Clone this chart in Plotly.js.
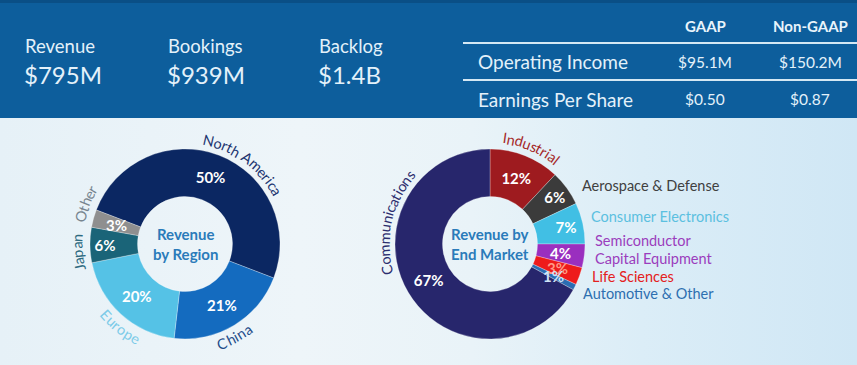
<!DOCTYPE html>
<html>
<head>
<meta charset="utf-8">
<script src="https://cdn.plot.ly/plotly-3.0.1.min.js"></script>
<style>
  html, body { margin:0; padding:0; }
  body { width:857px; height:365px; overflow:hidden;
    background: linear-gradient(to right, #e6f1f7 0%, #eef5f9 35%, #e9f3f8 55%, #dbedf7 75%, #d0e7f5 100%); }
  #chart { width:857px; height:365px; }
</style>
</head>
<body>
<div id="chart"></div>
<script>
// ---------- data ----------
const kpiNames = ['Revenue', 'Bookings', 'Backlog'];
const kpiValues = ['$795M', '$939M', '$1.4B'];
const tableCols = ['GAAP', 'Non-GAAP'];
const tableRows = ['Operating Income', 'Earnings Per Share'];
const gaapValues = ['$95.1M', '$0.50'];
const nonGaapValues = ['$150.2M', '$0.87'];

const regionLabels = ['North America', 'China', 'Europe', 'Japan', 'Other'];
const regionValues = [50, 21, 20, 6, 3];
const marketLabels = ['Industrial', 'Aerospace & Defense', 'Consumer Electronics',
  'Semiconductor Capital Equipment', 'Life Sciences', 'Automotive & Other', 'Communications'];
const marketValues = [12, 6, 7, 4, 3, 1, 67];

// ---------- styles ----------
const W = 857, H = 365;
const FONT = 'Lato, "Open Sans", sans-serif';
const regionColors = ['#0b2762', '#146bbf', '#55c2e6', '#1a6478', '#8f8f8f'];
const regionTextColors = ['#ffffff', '#ffffff', '#ffffff', '#ffffff', '#ffffff'];
const marketColors = ['#9e1b1f', '#3b3b3b', '#41bfe4', '#9a2fbf', '#ee1b1b', '#2b6db3', '#27266c'];
const marketTextColors = ['#ffffff', '#ffffff', '#ffffff', '#ffffff', '#ff9a85', '#cfe3f7', '#ffffff'];
const SMALL = 5;   // slices below this get their label placed by hand-computed mid angle

const leftDom = { x: [90 / W, 280 / W], y: [26 / H, 216 / H] };
const rightDom = { x: [395 / W, 585 / W], y: [26 / H, 216 / H] };
const HOLE = 0.5;
const ROT_LEFT = -69, ROT_RIGHT = 0;

function center(dom) {
  return [(dom.x[0] + dom.x[1]) / 2 * W, (1 - (dom.y[0] + dom.y[1]) / 2) * H];
}
function outerR(dom) {
  return Math.min((dom.x[1] - dom.x[0]) * W, (dom.y[1] - dom.y[0]) * H) / 2;
}

function pieTrace(labels, values, dom, rot, colors, tcolors) {
  return {
    type: 'pie', labels: labels, values: values, domain: dom,
    hole: HOLE, sort: false, direction: 'clockwise', rotation: rot,
    marker: { colors: colors, line: { color: 'rgba(255,255,255,0.35)', width: 0.8 } },
    texttemplate: '<b>%{value}%</b>',
    textposition: values.map(v => v < SMALL ? 'none' : 'inside'),
    insidetextorientation: 'horizontal',
    textfont: { family: FONT, size: 15, color: tcolors },
    hoverinfo: 'none'
  };
}
const traces = [
  pieTrace(regionLabels, regionValues, leftDom, ROT_LEFT, regionColors, regionTextColors),
  pieTrace(marketLabels, marketValues, rightDom, ROT_RIGHT, marketColors, marketTextColors)
];

const ann = [];
const shapes = [];
function px(x) { return x / W; }
function py(y) { return 1 - y / H; }
function addText(text, x, y, opts) {
  ann.push(Object.assign({
    text: text, x: px(x), y: py(y), xref: 'paper', yref: 'paper', showarrow: false,
    xanchor: 'left', yanchor: 'middle',
    font: { family: FONT, size: 15, color: '#ffffff' }
  }, opts || {}));
}

// small-slice percentage labels at the slice's mid angle, mid ring
function smallLabels(values, dom, rot, tcolors) {
  const [cx, cy] = center(dom);
  const R = outerR(dom);
  const rm = R * (1 + HOLE) / 2;
  const total = values.reduce((a, b) => a + b, 0);
  let before = 0;
  values.forEach((v, i) => {
    const midDeg = rot + (before + v / 2) / total * 360;
    before += v;
    if (v >= SMALL) return;
    const a = midDeg * Math.PI / 180;
    addText('<b>' + v + '%</b>', cx + rm * Math.sin(a), cy - rm * Math.cos(a),
      { xanchor: 'center', font: { family: FONT, size: 15, color: tcolors[i] } });
  });
}
smallLabels(regionValues, leftDom, ROT_LEFT, regionTextColors);
smallLabels(marketValues, rightDom, ROT_RIGHT, marketTextColors);

// banner
shapes.push({ type: 'rect', xref: 'paper', yref: 'paper', x0: 0, x1: 1, y0: py(118), y1: 1,
  fillcolor: '#0d5e9c', line: { width: 0 }, layer: 'below' });
shapes.push({ type: 'rect', xref: 'paper', yref: 'paper', x0: 0, x1: 1, y0: py(3), y1: 1,
  fillcolor: '#0a4f86', line: { width: 0 }, layer: 'below' });
const kpiX = [23, 166, 317];
kpiNames.forEach((n, i) => {
  addText(n, kpiX[i], 46, { font: { family: FONT, size: 18.5, color: '#e3f1fa' } });
  addText(kpiValues[i], kpiX[i] - 1, 75, { font: { family: FONT, size: 24, color: '#e3f1fa' } });
});
// table
[43, 80].forEach(y => shapes.push({ type: 'line', xref: 'paper', yref: 'paper',
  x0: px(463), x1: 1, y0: py(y), y1: py(y), line: { color: '#d4e8f4', width: 2 } }));
const colX = [705, 810];
tableCols.forEach((c, i) => addText('<b>' + c + '</b>', colX[i], 26,
  { xanchor: 'center', font: { family: FONT, size: 15, color: '#e8f4fb' } }));
const rowY = [62, 99];
tableRows.forEach((r, i) => {
  addText(r, 476, rowY[i], { font: { family: FONT, size: 19, color: '#e3f1fa' } });
  addText(gaapValues[i], colX[0], rowY[i], { xanchor: 'center', font: { family: FONT, size: 15.5, color: '#e3f1fa' } });
  addText(nonGaapValues[i], colX[1], rowY[i], { xanchor: 'center', font: { family: FONT, size: 15.5, color: '#e3f1fa' } });
});

// donut centre titles
const [lcx, lcy] = center(leftDom);
const [rcx, rcy] = center(rightDom);
addText('<b>Revenue<br>by Region</b>', lcx, lcy, { xanchor: 'center',
  font: { family: FONT, size: 15, color: '#2a7bba' } });
addText('<b>Revenue by<br>End Market</b>', rcx, rcy, { xanchor: 'center',
  font: { family: FONT, size: 15, color: '#2a7bba' } });

// curved labels around the rings
const ctx = document.createElement('canvas').getContext('2d');
function arcText(text, cx, cy, R, midDeg, mode, color, size) {
  ctx.font = size + 'px Lato';
  const chars = [...text];
  const ws = chars.map(ch => ctx.measureText(ch).width * 1.03);
  const total = ws.reduce((a, b) => a + b, 0);
  const span = total / R;
  const mid = midDeg * Math.PI / 180;
  let cum = 0;
  chars.forEach((ch, i) => {
    const off = (cum + ws[i] / 2) / R - span / 2;
    cum += ws[i];
    if (ch === ' ') return;
    const a = mode === 'top' ? mid + off : mid - off;
    const x = cx + R * Math.sin(a), y = cy - R * Math.cos(a);
    let rot = a * 180 / Math.PI - (mode === 'top' ? 0 : 180);
    while (rot > 180) rot -= 360;
    while (rot <= -180) rot += 360;
    ann.push({ text: ch, x: px(x), y: py(y), xref: 'paper', yref: 'paper', showarrow: false,
      xanchor: 'center', yanchor: 'middle', textangle: rot, borderpad: 0,
      font: { family: FONT, size: size, color: color } });
  });
}
const RT = 106;
arcText(regionLabels[0], lcx, lcy, RT, 36, 'top', '#1c3470', 14.5);
arcText(regionLabels[1], lcx, lcy, RT, 152, 'bottom', '#1f4d8a', 14.5);
arcText(regionLabels[2], lcx, lcy, RT, 218, 'bottom', '#7ccbe8', 14.5);
arcText(regionLabels[3], lcx, lcy, RT + 2, 265.5, 'top', '#2e6a80', 14.5);
arcText(regionLabels[4], lcx, lcy, RT + 2, 292, 'top', '#77858f', 14.5);
arcText(marketLabels[0], rcx, rcy, RT + 1, 23, 'top', '#a52a2a', 14.5);
arcText(marketLabels[6], rcx, rcy, RT, 283, 'top', '#2b2d6e', 14.5);

// side labels for the small end-market slices
addText(marketLabels[1], 580, 185, { font: { family: FONT, size: 14.5, color: '#404040' } });
addText(marketLabels[2], 589, 216, { font: { family: FONT, size: 14.5, color: '#5bc0e0' } });
addText('Semiconductor', 593, 240, { font: { family: FONT, size: 14.5, color: '#9b3dbd' } });
addText('Capital Equipment', 593, 258, { font: { family: FONT, size: 14.5, color: '#9b3dbd' } });
addText(marketLabels[4], 590, 276, { font: { family: FONT, size: 14.5, color: '#e42020' } });
addText(marketLabels[5], 581, 293, { font: { family: FONT, size: 14.5, color: '#2d6fb0' } });

const layout = {
  width: W, height: H, margin: { l: 0, r: 0, t: 0, b: 0 },
  paper_bgcolor: 'rgba(0,0,0,0)', plot_bgcolor: 'rgba(0,0,0,0)',
  showlegend: false, shapes: shapes, annotations: ann,
  uniformtext: { mode: 'show', minsize: 15 },
  font: { family: FONT }
};
Plotly.newPlot('chart', traces, layout, { staticPlot: true, displayModeBar: false });
</script>
</body>
</html>
